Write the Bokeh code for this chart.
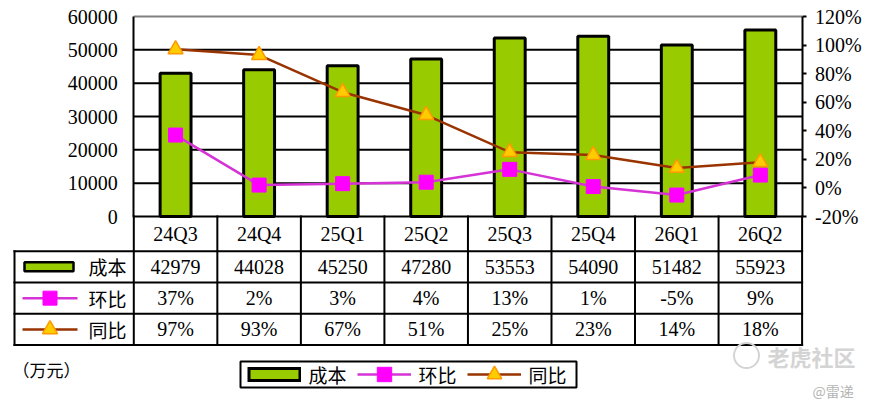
from bokeh.plotting import figure
from bokeh.models import (Range1d, LinearAxis, FixedTicker, PrintfTickFormatter,
                          NumeralTickFormatter, Legend, LegendItem)
from bokeh.core.properties import value
from bokeh.embed import file_html
from bokeh.resources import INLINE

# ---------------- data ----------------
quarters = ["24Q3", "24Q4", "25Q1", "25Q2", "25Q3", "25Q4", "26Q1", "26Q2"]
cost = [42979, 44028, 45250, 47280, 53553, 54090, 51482, 55923]
qoq = [37, 2, 3, 4, 13, 1, -5, 9]
yoy = [97, 93, 67, 51, 25, 23, 14, 18]
left_ticks = [0, 10000, 20000, 30000, 40000, 50000, 60000]
right_ticks = [-20, 0, 20, 40, 60, 80, 100, 120]
series_names = ["成本", "环比", "同比"]
unit_label = "（万元）"
watermark = "老虎社区"
credit = "@雷递"

# ---------------- layout (page pixels) ----------------
W, H = 866, 402
FL, FR, FT, FB = 133.3, 801.6, 16.0, 216.0
n = len(quarters)
CW = (FR - FL) / n
ROWS = [216.0, 250.7, 282.0, 313.3, 344.5]
TL = 14.0

GREEN = "#99CC00"
MAG_LINE = "#D633D6"
MAG = "#FF00FF"
BROWN = "#993300"
TRI_FILL = "#FFCC00"
TRI_LINE = "#FF9900"
NUM_FONT = value("Liberation Serif")
CJK_FONT = value("Noto Sans CJK SC")
NAN = float("nan")

lmax = left_ticks[-1]
upp = (lmax - left_ticks[0]) / (FB - FT)
y_start = left_ticks[0] - (H - FB) * upp
y_end = lmax + FT * upp
pmin, pmax = right_ticks[0], right_ticks[-1]
ppp = (pmax - pmin) / (FB - FT)
p_start = pmin - (H - FB) * ppp
p_end = pmax + FT * ppp

p = figure(width=W, height=H,
           x_range=Range1d(-FL / CW, (W - FL) / CW),
           y_range=Range1d(y_start, y_end),
           x_axis_location=None, y_axis_location=None,
           toolbar_location=None, output_backend="svg", min_border=0)
p.outline_line_color = None
p.xgrid.visible = False
p.ygrid.visible = False
p.extra_y_ranges = {"pct": Range1d(p_start, p_end), "py": Range1d(H, 0)}
p.extra_x_ranges = {"px": Range1d(0, W)}

xc = [i + 0.5 for i in range(n)]

# grid lines
p.segment(x0=0, x1=n, y0=left_ticks[1:-1], y1=left_ticks[1:-1],
          line_color="black", line_width=2)
# plot-area top border
p.segment(x0=[0], x1=[n], y0=[lmax], y1=[lmax], line_color="#808080", line_width=2)

# bars
bars = p.vbar(x=xc, top=cost, bottom=0, width=0.37, fill_color=GREEN,
              line_color="black", line_width=3)

# lines
qoq_line = p.line(xc, qoq, y_range_name="pct", line_color=MAG_LINE, line_width=2.5)
qoq_pts = p.scatter(xc, qoq, y_range_name="pct", marker="square", size=14,
                    fill_color=MAG, line_color=MAG, line_width=1)
yoy_line = p.line(xc, yoy, y_range_name="pct", line_color=BROWN, line_width=2.5)
yoy_pts = p.scatter(xc, yoy, y_range_name="pct", marker="triangle", size=15,
                    fill_color=TRI_FILL, line_color=TRI_LINE, line_width=1.5)

# axes
yax = LinearAxis(fixed_location=0, bounds=(left_ticks[0], lmax),
                 ticker=FixedTicker(ticks=left_ticks),
                 formatter=NumeralTickFormatter(format="0"),
                 axis_line_color="black", axis_line_width=2,
                 major_tick_in=0, major_tick_out=0, minor_tick_in=0, minor_tick_out=0,
                 major_label_standoff=16, major_label_text_font="Liberation Serif",
                 major_label_text_font_size="20px", major_label_text_color="black")
p.add_layout(yax, "left")
rax = LinearAxis(y_range_name="pct", fixed_location=n, bounds=(pmin, pmax),
                 ticker=FixedTicker(ticks=right_ticks),
                 formatter=PrintfTickFormatter(format="%d%%"),
                 axis_line_color="black", axis_line_width=2,
                 major_tick_in=0, major_tick_out=4, major_tick_line_width=2,
                 minor_tick_in=0, minor_tick_out=0,
                 major_label_standoff=9, major_label_text_font="Liberation Serif",
                 major_label_text_font_size="20px", major_label_text_color="black")
p.add_layout(rax, "right")

# ---------------- data table ----------------
hx0 = [FL] + [TL] * (len(ROWS) - 1)
hx1 = [FR] * len(ROWS)
p.segment(x0=hx0, x1=hx1, y0=ROWS, y1=ROWS, x_range_name="px", y_range_name="py",
          line_color="black", line_width=2, line_cap="square")
vx = [TL] + [FL + CW * i for i in range(n + 1)]
vy0 = [ROWS[1]] + [ROWS[0]] * (n + 1)
vy1 = [ROWS[-1]] * (n + 2)
p.segment(x0=vx, x1=vx, y0=vy0, y1=vy1, x_range_name="px", y_range_name="py",
          line_color="black", line_width=2, line_cap="square")

mids = [(ROWS[i] + ROWS[i + 1]) / 2 for i in range(len(ROWS) - 1)]
row_texts = [quarters,
             [str(v) for v in cost],
             [f"{v}%" for v in qoq],
             [f"{v}%" for v in yoy]]
for r, texts in enumerate(row_texts):
    p.text(x=xc, y=[mids[r]] * n, text=texts, y_range_name="py",
           text_font=NUM_FONT, text_font_size="20px", text_color="black",
           text_align="center", text_baseline="middle")

# row keys (left column)
kx0, kx1 = 22.0, 77.0
kxc = (kx0 + kx1) / 2
p.quad(left=[24], right=[73], top=[mids[1] - 4.5], bottom=[mids[1] + 4.5],
       x_range_name="px", y_range_name="py",
       fill_color=GREEN, line_color="black", line_width=2.5)
p.segment(x0=[kx0], x1=[kx1], y0=[mids[2]], y1=[mids[2]], x_range_name="px",
          y_range_name="py", line_color=MAG_LINE, line_width=2.5)
p.scatter([kxc], [mids[2]], x_range_name="px", y_range_name="py", marker="square",
          size=14, fill_color=MAG, line_color=MAG)
p.segment(x0=[kx0], x1=[kx1], y0=[mids[3]], y1=[mids[3]], x_range_name="px",
          y_range_name="py", line_color=BROWN, line_width=2.5)
p.scatter([kxc], [mids[3]], x_range_name="px", y_range_name="py", marker="triangle",
          size=15, fill_color=TRI_FILL, line_color=TRI_LINE, line_width=1.5)
p.text(x=[88] * 3, y=mids[1:], text=series_names, x_range_name="px", y_range_name="py",
       text_font=CJK_FONT, text_font_size="19px", text_color="black",
       text_align="left", text_baseline="middle")

# unit label
p.text(x=[12], y=[369], text=[unit_label], x_range_name="px", y_range_name="py",
       text_font=CJK_FONT, text_font_size="17px", text_color="black",
       text_align="left", text_baseline="middle")

# ---------------- bottom legend ----------------
LB = (240, 576, 361, 387)
p.quad(left=[LB[0]], right=[LB[1]], top=[LB[2]], bottom=[LB[3]], x_range_name="px",
       y_range_name="py", fill_color="white", line_color="black", line_width=2)
sw_border = p.line(x=[NAN, NAN], y=[NAN, NAN], line_color="black", line_width=15)
sw_fill = p.line(x=[NAN, NAN], y=[NAN, NAN], line_color=GREEN, line_width=9,
                 line_dash="0 3 48 100")
legend = Legend(items=[
    LegendItem(label=value(series_names[0]), renderers=[sw_border, sw_fill]),
    LegendItem(label=value(series_names[1]), renderers=[qoq_line, qoq_pts]),
    LegendItem(label=value(series_names[2]), renderers=[yoy_line, yoy_pts]),
], orientation="horizontal", location=(246.5, H - 392), glyph_width=54,
    glyph_height=36, label_standoff=8, spacing=8, label_width=40, padding=0, margin=0,
    border_line_color=None, background_fill_alpha=0,
    label_text_font="Noto Sans CJK SC", label_text_font_size="19px",
    label_text_color="black")
p.add_layout(legend)

# ---------------- watermark ----------------
p.scatter([746], [355], x_range_name="px", y_range_name="py", marker="circle", size=25,
          fill_color=None, line_color="#d4d4d4", line_width=2)
p.text(x=[767], y=[355], text=[watermark], x_range_name="px", y_range_name="py",
       text_font=CJK_FONT, text_font_size="22px", text_color="#d4d4d4",
       text_font_style="bold", text_align="left", text_baseline="middle")
p.text(x=[812], y=[390], text=[credit], x_range_name="px", y_range_name="py",
       text_font=CJK_FONT, text_font_size="14px", text_color="#b4b4b4",
       text_align="left", text_baseline="middle")

open("out.html", "w").write(file_html(p, INLINE))
